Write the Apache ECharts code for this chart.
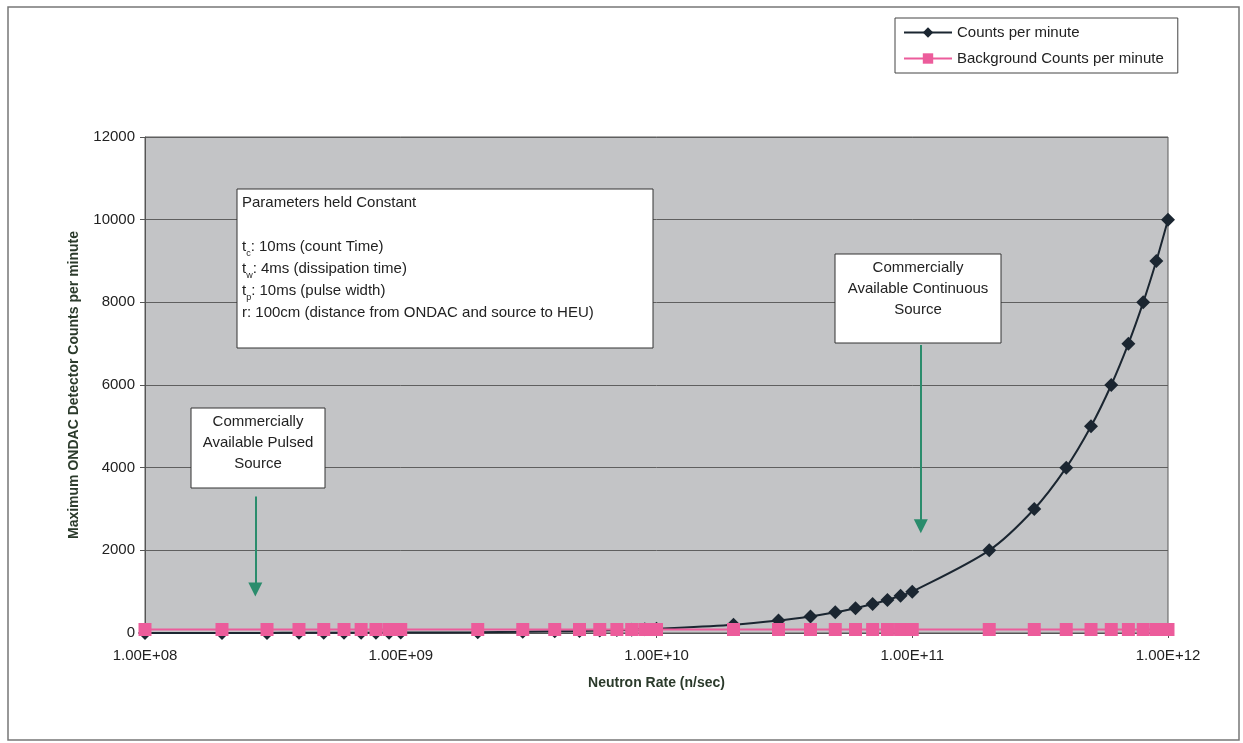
<!DOCTYPE html>
<html>
<head>
<meta charset="utf-8">
<title>ONDAC counts vs neutron rate</title>
<script src="https://cdn.jsdelivr.net/npm/echarts@6/dist/echarts.min.js"></script>
<style>
  html, body { margin: 0; padding: 0; background: #fff; }
  #chart { width: 1243px; height: 743px; }
</style>
</head>
<body>
<div id="chart"></div>
<script>
// neutron rates (n/sec) sampled in the sheet
const rates = [
  1e8, 2e8, 3e8, 4e8, 5e8, 6e8, 7e8, 8e8, 9e8,
  1e9, 2e9, 3e9, 4e9, 5e9, 6e9, 7e9, 8e9, 9e9,
  1e10, 2e10, 3e10, 4e10, 5e10, 6e10, 7e10, 8e10, 9e10,
  1e11, 2e11, 3e11, 4e11, 5e11, 6e11, 7e11, 8e11, 9e11,
  1e12
];
// counts per minute
const counts = [
  1, 2, 3, 4, 5, 6, 7, 8, 9,
  10, 20, 30, 40, 50, 60, 70, 80, 90,
  100, 200, 300, 400, 500, 600, 700, 800, 900,
  1000, 2000, 3000, 4000, 5000, 6000, 7000, 8000, 9000,
  10000
];
const background = [
  85, 85, 85, 85, 85, 85, 85, 85, 85,
  85, 85, 85, 85, 85, 85, 85, 85, 85,
  85, 85, 85, 85, 85, 85, 85, 85, 85,
  85, 85, 85, 85, 85, 85, 85, 85, 85,
  85
];
const xTickLabels = ['1.00E+08', '1.00E+09', '1.00E+10', '1.00E+11', '1.00E+12'];

// arrow annotations: [rate, from count, to count]
const pulsedArrow = [2.7e8, 3300, 1050];
const continuousArrow = [1.08e11, 6970, 2580];

const FONT = '"Liberation Sans", Arial, sans-serif';
const TITLE_COLOR = '#2b3a2b';

let chart = echarts.init(document.getElementById('chart'), null, { renderer: 'canvas' });

function pairs(xs, ys) {
  return xs.map((x, i) => [x, ys[i]]);
}

function arrow(a) {
  return [{ coord: [a[0], a[1]] }, { coord: [a[0], a[2]] }];
}

let option = {
  animation: false,
  textStyle: { fontFamily: FONT },
  grid: {
    left: 145, right: 75, top: 137, bottom: 110,
    show: true,
    backgroundColor: '#c3c4c6',
    borderColor: '#5a5a5a',
    borderWidth: 1
  },
  legend: {
    orient: 'vertical',
    left: 895, top: 18,
    padding: [7, 14, 7, 8],
    itemGap: 11,
    itemWidth: 48,
    itemHeight: 13,
    borderColor: '#444',
    borderWidth: 1,
    backgroundColor: '#fff',
    textStyle: { fontSize: 15, color: '#222', fontFamily: FONT },
    data: ['Counts per minute', 'Background Counts per minute']
  },
  xAxis: {
    type: 'log',
    logBase: 10,
    min: 1e8, max: 1e12,
    name: 'Neutron Rate (n/sec)',
    nameLocation: 'middle',
    nameGap: 43,
    nameTextStyle: { fontSize: 14, fontWeight: 'bold', color: TITLE_COLOR, fontFamily: FONT },
    axisLine: { lineStyle: { color: '#555' } },
    axisTick: { show: true, length: 5, lineStyle: { color: '#555' } },
    minorTick: { show: false },
    splitLine: { show: false },
    axisLabel: {
      fontSize: 15, color: '#222', margin: 15,
      formatter: v => xTickLabels[Math.round(Math.log10(v)) - 8] || ''
    }
  },
  yAxis: {
    type: 'value',
    min: 0, max: 12000, interval: 2000,
    name: 'Maximum ONDAC Detector Counts per minute',
    nameLocation: 'middle',
    nameGap: 64,
    nameTextStyle: { fontSize: 14, fontWeight: 'bold', color: TITLE_COLOR, fontFamily: FONT },
    axisLine: { show: true, lineStyle: { color: '#555' } },
    axisTick: { show: true, length: 5, lineStyle: { color: '#555' } },
    splitLine: { lineStyle: { color: '#5f5f5f', width: 1 } },
    axisLabel: { fontSize: 15, color: '#222', margin: 10, formatter: v => String(v) }
  },
  series: [
    {
      name: 'Counts per minute',
      type: 'line',
      data: pairs(rates, counts),
      smooth: 0.3,
      symbol: 'diamond',
      symbolSize: 14,
      color: '#1b2631',
      lineStyle: { width: 2, color: '#1b2631' },
      z: 3
    },
    {
      name: 'Background Counts per minute',
      type: 'line',
      data: pairs(rates, background),
      symbol: 'rect',
      symbolSize: 13,
      color: '#ec5c9b',
      lineStyle: { width: 2, color: '#ec5c9b' },
      z: 4,
      markLine: {
        silent: true,
        symbol: ['none', 'triangle'],
        symbolSize: 14,
        label: { show: false },
        lineStyle: { color: '#2a8c6c', width: 2, type: 'solid' },
        itemStyle: { color: '#2a8c6c' },
        data: [arrow(pulsedArrow), arrow(continuousArrow)]
      }
    }
  ],
  graphic: [
    // outer frame
    {
      type: 'rect', silent: true,
      shape: { x: 8, y: 7, width: 1231, height: 733 },
      style: { fill: 'none', stroke: '#777', lineWidth: 1.5 }
    },
    // parameters box
    {
      type: 'rect', silent: true, z: 10,
      shape: { x: 237, y: 189, width: 416, height: 159 },
      style: { fill: '#fff', stroke: '#333', lineWidth: 1 }
    },
    {
      type: 'text', silent: true, z: 11,
      x: 242, y: 192,
      style: {
        text: 'Parameters held Constant\n\nt{s|c}: 10ms (count Time)\nt{s|w}: 4ms (dissipation time)\nt{s|p}: 10ms (pulse width)\nr: 100cm (distance from ONDAC and source to HEU)',
        font: '15px ' + FONT,
        fill: '#222',
        lineHeight: 22,
        rich: {
          s: { fontSize: 9, lineHeight: 15, verticalAlign: 'bottom', fill: '#222' }
        }
      }
    },
    // pulsed source box
    {
      type: 'rect', silent: true, z: 10,
      shape: { x: 191, y: 408, width: 134, height: 80 },
      style: { fill: '#fff', stroke: '#333', lineWidth: 1 }
    },
    {
      type: 'text', silent: true, z: 11,
      x: 258, y: 411,
      style: {
        text: 'Commercially\nAvailable Pulsed\nSource',
        font: '15px ' + FONT, fill: '#222',
        align: 'center', lineHeight: 21
      }
    },
    // continuous source box
    {
      type: 'rect', silent: true, z: 10,
      shape: { x: 835, y: 254, width: 166, height: 89 },
      style: { fill: '#fff', stroke: '#333', lineWidth: 1 }
    },
    {
      type: 'text', silent: true, z: 11,
      x: 918, y: 257,
      style: {
        text: 'Commercially\nAvailable Continuous\nSource',
        font: '15px ' + FONT, fill: '#222',
        align: 'center', lineHeight: 21
      }
    }
  ]
};

chart.setOption(option);
</script>
</body>
</html>
